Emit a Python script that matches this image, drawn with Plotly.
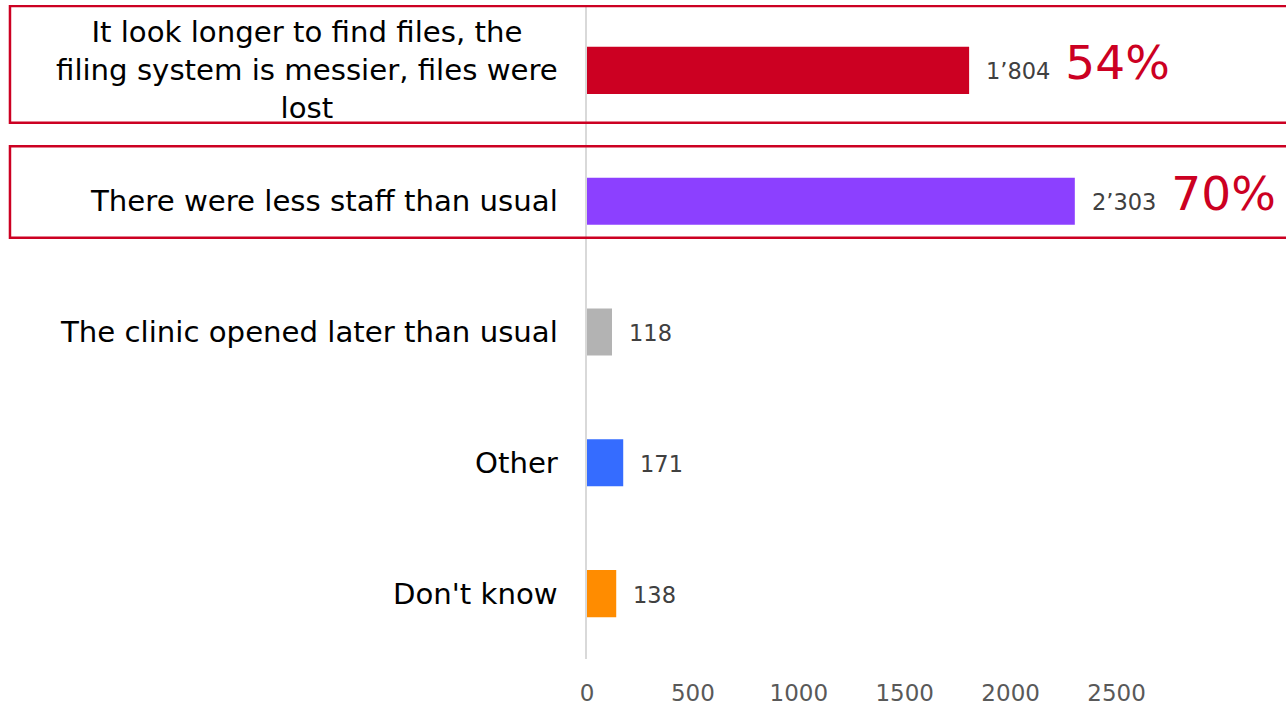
import plotly.graph_objects as go

categories = [
    "It look longer to find files, the<br>filing system is messier, files were<br>lost",
    "There were less staff than usual",
    "The clinic opened later than usual",
    "Other",
    "Don't know",
]
values = [1804, 2303, 118, 171, 138]
percents = [54, 70, None, None, None]
colors = ["#CC0022", "#8C40FF", "#B3B3B3", "#356CFF", "#FF8C00"]
highlighted = [0, 1]
x_ticks = [0, 500, 1000, 1500, 2000, 2500]

RED = "#CC0022"
LABEL_FONT = "Verdana, DejaVu Sans, sans-serif"
NUM_FONT = "Tahoma, DejaVu Sans, sans-serif"

idx = list(range(len(categories)))

fig = go.Figure(
    go.Bar(
        x=values,
        y=idx,
        orientation="h",
        marker=dict(color=colors, line=dict(width=0)),
        width=0.36,
        hoverinfo="skip",
    )
)

annotations = []
for i, (cat, v, p) in enumerate(zip(categories, values, percents)):
    annotations.append(dict(
        x=0, xref="paper", y=i, yref="y",
        text=cat, showarrow=False, xanchor="right", yanchor="middle",
        xshift=-27, align="center",
        font=dict(family=LABEL_FONT, size=29.2, color="#000000"),
    ))
    label = f"{v:,}".replace(",", "’")
    if p is not None:
        label += f"<span style='font-size:47px;color:{RED}'> {p}%</span>"
        ys = 8
    else:
        ys = -1
    annotations.append(dict(
        x=v, xref="x", y=i, yref="y",
        text=label, showarrow=False, xanchor="left", yanchor="middle",
        xshift=15, yshift=ys,
        font=dict(family=NUM_FONT, size=22.5, color="#404040"),
    ))

# red highlight boxes around the first two categories
box_bounds = {0: (-0.492, 0.40), 1: (0.58, 1.28)}
shapes = []
for i in highlighted:
    y0, y1 = box_bounds[i]
    shapes.append(dict(
        type="rect", xref="paper", yref="y",
        x0=-0.8255, x1=1.02, y0=y0, y1=y1,
        line=dict(color=RED, width=2.5),
        fillcolor="rgba(0,0,0,0)", layer="above",
    ))

fig.update_layout(
    width=1286, height=706,
    margin=dict(l=587, r=0, t=5, b=40),
    paper_bgcolor="white", plot_bgcolor="white",
    showlegend=False,
    annotations=annotations,
    shapes=shapes,
    xaxis=dict(
        range=[0, 3300],
        tickvals=x_ticks,
        ticktext=[str(t) for t in x_ticks],
        showgrid=False, zeroline=False, showline=False,
        ticks="outside", ticklen=13, tickcolor="rgba(0,0,0,0)",
        tickfont=dict(family=NUM_FONT, size=23, color="#595959"),
        fixedrange=True,
    ),
    yaxis=dict(
        range=[4.5, -0.5],
        showticklabels=False,
        showgrid=False, zeroline=False,
        showline=True, linecolor="#D9D9D9", linewidth=2,
        ticks="",
        fixedrange=True,
    ),
)

fig.write_html(
    "out.html",
    config={"displayModeBar": False},
    post_script="document.body.style.margin='0';document.body.style.overflow='hidden';",
)
